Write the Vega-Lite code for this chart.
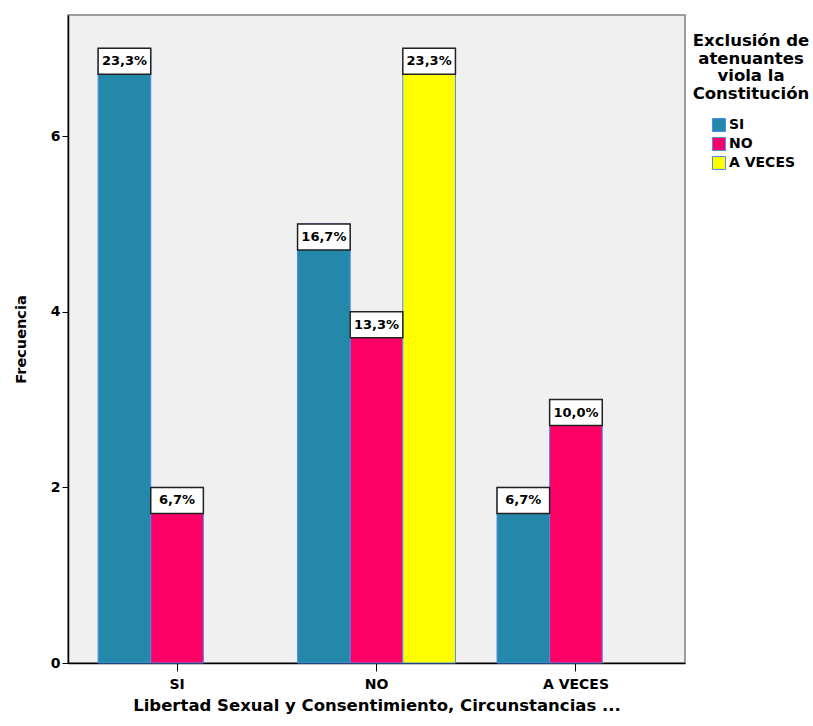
{
  "$schema": "https://vega.github.io/schema/vega-lite/v6.json",
  "width": 617,
  "height": 648,
  "autosize": {"type": "none"},
  "padding": {"left": 68, "top": 15, "right": 128, "bottom": 63},
  "background": "white",
  "config": {
    "font": "DejaVu Sans",
    "view": {"fill": "#F0F0F0", "stroke": "#808080", "strokeWidth": 1.5}
  },
  "data": {
    "values": [
      {"cat": "SI", "resp": "SI", "n": 7, "pct": "23,3%"},
      {"cat": "SI", "resp": "NO", "n": 2, "pct": "6,7%"},
      {"cat": "NO", "resp": "SI", "n": 5, "pct": "16,7%"},
      {"cat": "NO", "resp": "NO", "n": 4, "pct": "13,3%"},
      {"cat": "NO", "resp": "A VECES", "n": 7, "pct": "23,3%"},
      {"cat": "A VECES", "resp": "SI", "n": 2, "pct": "6,7%"},
      {"cat": "A VECES", "resp": "NO", "n": 3, "pct": "10,0%"}
    ]
  },
  "encoding": {
    "x": {
      "field": "cat",
      "type": "nominal",
      "sort": ["SI", "NO", "A VECES"],
      "scale": {"paddingInner": 0.2085, "paddingOuter": 0.151},
      "title": "Libertad Sexual y Consentimiento, Circunstancias ...",
      "axis": {
        "labelAngle": 0,
        "labelFontSize": 14,
        "labelFontWeight": "bold",
        "labelColor": "#000",
        "labelPadding": 6,
        "tickSize": 8,
        "tickColor": "#000",
        "domainColor": "#000",
        "domainWidth": 1.5,
        "titleFontSize": 16.5,
        "titleFontWeight": "bold",
        "titleColor": "#000",
        "titlePadding": 6
      }
    },
    "xOffset": {
      "field": "resp",
      "type": "nominal",
      "scale": {"domain": ["SI", "NO", "A VECES"], "paddingInner": 0, "paddingOuter": 0}
    },
    "y": {
      "field": "n",
      "type": "quantitative",
      "scale": {"domain": [0, 7.38], "nice": false},
      "title": "Frecuencia",
      "axis": {
        "values": [0, 2, 4, 6],
        "grid": false,
        "labelFontSize": 14,
        "labelFontWeight": "bold",
        "labelColor": "#000",
        "tickSize": 6,
        "tickColor": "#000",
        "domainColor": "#000",
        "domainWidth": 1.5,
        "titleFontSize": 14.5,
        "titleFontWeight": "bold",
        "titleColor": "#000",
        "titlePadding": 22
      }
    }
  },
  "layer": [
    {
      "mark": {"type": "bar", "stroke": "#4A8CF0", "strokeWidth": 1},
      "encoding": {
        "color": {
          "field": "resp",
          "type": "nominal",
          "scale": {"domain": ["SI", "NO", "A VECES"], "range": ["#2488AB", "#FF0066", "#FFFF00"]},
          "legend": {
            "title": ["Exclusión de", "atenuantes", "viola la", "Constitución"],
            "orient": "none",
            "legendX": 625,
            "legendY": 18,
            "titleFontSize": 16.5,
            "titleFontWeight": "bold",
            "titleColor": "#000",
            "titleAlign": "center",
            "titleAnchor": "middle",
            "titleLineHeight": 17.5,
            "titlePadding": 16,
            "symbolType": "square",
            "symbolSize": 169,
            "symbolStrokeColor": "#4A8CF0",
            "symbolStrokeWidth": 1,
            "symbolOpacity": 1,
            "symbolOffset": 6,
            "labelFontSize": 14,
            "labelFontWeight": "bold",
            "labelColor": "#000",
            "labelOffset": 3,
            "rowPadding": 1
          }
        }
      }
    },
    {
      "mark": {"type": "bar", "fill": "white", "stroke": "#222", "strokeWidth": 1.5, "y2Offset": 26},
      "encoding": {
        "y2": {"field": "n"}
      }
    },
    {
      "mark": {"type": "text", "dy": 13, "fontSize": 13, "fontWeight": "bold", "baseline": "middle", "color": "#000"},
      "encoding": {
        "text": {"field": "pct"}
      }
    }
  ]
}
